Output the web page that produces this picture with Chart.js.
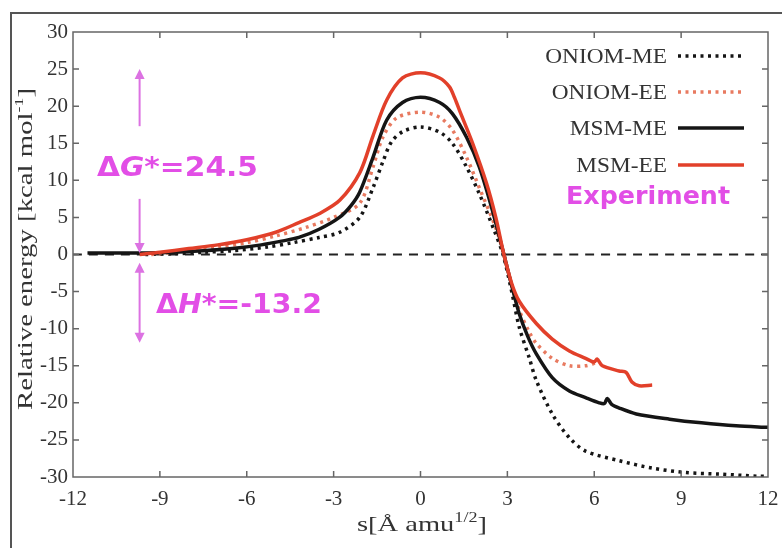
<!DOCTYPE html>
<html>
<head>
<meta charset="utf-8">
<script src="https://cdn.jsdelivr.net/npm/chart.js@4/dist/chart.umd.min.js"></script>
<style>
  html, body { margin: 0; padding: 0; background: #fff; }
  #wrap { width: 782px; height: 548px; position: relative; }
</style>
</head>
<body>
<div id="wrap"><canvas id="c"></canvas></div>
<script>
// reaction path s [Å amu^1/2] vs relative energy [kcal/mol]

const S_MSM_ME = [-11.5, -10.5, -9.5, -8.5, -7.5, -6.5, -5.5, -4.8, -4.2, -3.5, -2.8, -2.4, -2.1, -1.64, -1.17, -0.62, 0, 0.66, 1.1, 1.59, 2.03, 2.45, 2.88, 3.15, 3.41, 3.7, 4.0, 4.55, 5.14, 5.7, 6.17, 6.35, 6.45, 6.6, 6.86, 7.45, 8.6, 9.7, 10.9, 12];
const E_MSM_ME = [0.2, 0.2, 0.2, 0.3, 0.5, 0.8, 1.3, 1.8, 2.3, 3.4, 5.0, 6.6, 8.4, 13.1, 18.1, 20.5, 21.2, 20.5, 19.0, 15.8, 11.8, 6.4, 0, -4.2, -8.0, -11.0, -13.4, -16.6, -18.4, -19.3, -20.0, -20.1, -19.4, -20.2, -20.7, -21.5, -22.2, -22.7, -23.1, -23.3];

const S_MSM_EE = [-9.7, -9, -8, -7, -6, -5, -4.2, -3.5, -2.79, -2.1, -1.64, -1.17, -0.62, 0, 0.66, 1.0, 1.17, 1.34, 1.8, 2.28, 2.6, 2.88, 3.15, 3.41, 4.0, 4.55, 5.14, 5.7, 6.0, 6.1, 6.28, 6.86, 7.1, 7.3, 7.55, 8.0];
const E_MSM_EE = [0, 0.3, 0.8, 1.3, 2.0, 3.0, 4.3, 5.5, 7.3, 11.0, 16.0, 20.8, 23.8, 24.5, 23.8, 22.6, 21.2, 19.5, 15.0, 9.6, 5.0, 0, -3.9, -6.3, -9.3, -11.4, -13.0, -14.0, -14.5, -14.1, -15.0, -15.7, -15.9, -17.2, -17.7, -17.6];

const S_ONIOM_ME = [-9.5, -8.5, -7.5, -6.5, -5.3, -4.4, -3.5, -2.79, -2.1, -1.64, -1.3, -1.0, -0.6, 0, 0.66, 1.1, 1.59, 2.03, 2.55, 2.85, 3.15, 3.41, 3.76, 4.0, 4.55, 5.14, 5.7, 6.86, 8.0, 9.17, 10.3, 11.7, 12];
const E_ONIOM_ME = [0, 0.1, 0.3, 0.5, 1.0, 1.6, 2.3, 3.0, 5.0, 9.0, 12.5, 15.2, 16.6, 17.2, 16.5, 15.0, 11.8, 8.2, 3.2, 0, -5.0, -9.8, -14.0, -17.0, -21.5, -24.7, -26.5, -27.8, -28.8, -29.4, -29.6, -29.9, -29.9];

const S_ONIOM_EE = [-9.3, -8, -7, -6, -5, -4, -3, -2.1, -1.64, -1.3, -0.83, 0, 0.66, 1.1, 1.59, 2.03, 2.6, 2.88, 3.15, 3.41, 3.76, 4.0, 4.55, 5.14, 5.7, 6.07];
const E_ONIOM_EE = [0, 0.5, 1.0, 1.6, 2.5, 3.6, 5.0, 6.9, 11.8, 15.8, 18.4, 19.2, 18.5, 16.8, 13.1, 9.0, 3.6, 0, -4.2, -7.5, -10.5, -12.0, -14.0, -15.0, -15.0, -14.6];

const LEGEND_LABELS = ['ONIOM-ME', 'ONIOM-EE', 'MSM-ME', 'MSM-EE'];

// annotation arrows, in data units (s, energy)
const ARROW_S = -9.7;
const DG_ARROW = { top: 25, gapTop: 17.3, gapBottom: 7.5, bottom: 0.2 };
const DH_ARROW = { top: -1.1, bottom: -11.9 };

const BLACK = '#151515';
const RED = '#e2402a';
const RED_DOT = '#e87a60';
const MAGENTA = '#e24ee6';
const ARROW_COL = '#dc72e2';
const TEXT = '#333';
const SERIF = '"Liberation Serif", "Times New Roman", serif';
const SANS = '"DejaVu Sans", "Open Sans", sans-serif';

const DOT = [3, 4.5];

function pts(xs, ys) {
  return xs.map((x, i) => ({ x, y: ys[i] }));
}

// draw text runs scaled horizontally to fill a given width
function fitRuns(ctx, runs, x, y, width, align) {
  let natural = 0;
  for (const r of runs) { ctx.font = r.font; natural += ctx.measureText(r.t).width; }
  const k = width / natural;
  ctx.save();
  const startX = align === 'right' ? x - width : align === 'center' ? x - width / 2 : x;
  ctx.translate(startX, y);
  ctx.scale(k, 1);
  ctx.textAlign = 'left';
  ctx.textBaseline = 'alphabetic';
  let cx = 0;
  for (const r of runs) {
    ctx.font = r.font;
    ctx.fillStyle = r.color;
    ctx.fillText(r.t, cx, r.dy || 0);
    cx += ctx.measureText(r.t).width;
  }
  ctx.restore();
}

function arrowHead(ctx, x, y, dir) {
  // dir -1 points up, +1 points down
  ctx.beginPath();
  ctx.moveTo(x, y);
  ctx.lineTo(x - 5, y - dir * 10);
  ctx.lineTo(x + 5, y - dir * 10);
  ctx.closePath();
  ctx.fill();
}

function vArrow(ctx, x, y1, y2, head1, head2) {
  ctx.beginPath();
  ctx.moveTo(x, y1 + (head1 ? 6 : 0));
  ctx.lineTo(x, y2 - (head2 ? 6 : 0));
  ctx.stroke();
  if (head1) arrowHead(ctx, x, y1, -1);
  if (head2) arrowHead(ctx, x, y2, 1);
}

const decor = {
  id: 'decor',
  beforeDraw(chart) {
    const ctx = chart.ctx;
    ctx.save();
    ctx.fillStyle = '#fff';
    ctx.fillRect(0, 0, chart.width, chart.height);
    ctx.restore();
  },
  afterDraw(chart) {
    const ctx = chart.ctx;
    const { left, right, top, bottom } = chart.chartArea;
    const xs = chart.scales.x, ys = chart.scales.y;
    ctx.save();

    // outer frame of the figure
    ctx.strokeStyle = '#555';
    ctx.lineWidth = 2;
    ctx.beginPath();
    ctx.moveTo(11, 548);
    ctx.lineTo(11, 13);
    ctx.lineTo(782, 13);
    ctx.stroke();

    // plot frame and inward ticks
    ctx.strokeStyle = '#666';
    ctx.lineWidth = 1.5;
    ctx.strokeRect(left, top, right - left, bottom - top);
    ctx.beginPath();
    xs.ticks.forEach(t => {
      const p = xs.getPixelForValue(t.value);
      if (p <= left + 1 || p >= right - 1) return;
      ctx.moveTo(p, bottom); ctx.lineTo(p, bottom - 6);
      ctx.moveTo(p, top); ctx.lineTo(p, top + 6);
    });
    ys.ticks.forEach(t => {
      const p = ys.getPixelForValue(t.value);
      if (p <= top + 1 || p >= bottom - 1) return;
      ctx.moveTo(left, p); ctx.lineTo(left + 6, p);
      ctx.moveTo(right, p); ctx.lineTo(right - 6, p);
    });
    ctx.stroke();

    // axis titles
    ctx.save();
    ctx.translate(25, 249);
    ctx.rotate(-Math.PI / 2);
    fitRuns(ctx, [
      { t: 'Relative energy [kcal mol', font: '21px ' + SERIF, color: TEXT },
      { t: '-1', font: '13px ' + SERIF, color: TEXT, dy: -9 },
      { t: ']', font: '21px ' + SERIF, color: TEXT }
    ], 0, 7, 322, 'center');
    ctx.restore();

    fitRuns(ctx, [
      { t: 's[Å amu', font: '22px ' + SERIF, color: TEXT },
      { t: '1/2', font: '14px ' + SERIF, color: TEXT, dy: -9 },
      { t: ']', font: '22px ' + SERIF, color: TEXT }
    ], 422, 531, 130, 'center');

    // legend
    const legendY = [56, 92, 128, 165];
    const styles = [
      { c: BLACK, dash: DOT, w: 3.5 },
      { c: RED_DOT, dash: DOT, w: 3.5 },
      { c: BLACK, dash: [], w: 3.5 },
      { c: RED, dash: [], w: 3.5 }
    ];
    LEGEND_LABELS.forEach((lab, i) => {
      ctx.font = '22px ' + SERIF;
      const w = ctx.measureText(lab).width * 1.06;
      fitRuns(ctx, [{ t: lab, font: '22px ' + SERIF, color: TEXT }], 667, legendY[i] + 7, w, 'right');
      ctx.strokeStyle = styles[i].c;
      ctx.lineWidth = styles[i].w;
      ctx.setLineDash(styles[i].dash);
      ctx.beginPath();
      ctx.moveTo(678, legendY[i]);
      ctx.lineTo(744, legendY[i]);
      ctx.stroke();
      ctx.setLineDash([]);
    });
    fitRuns(ctx, [{ t: 'Experiment', font: 'bold 25px ' + SANS, color: MAGENTA }], 566, 204, 164, 'left');

    // ΔG* / ΔH* annotations
    fitRuns(ctx, [
      { t: 'Δ', font: 'bold 26px ' + SANS, color: MAGENTA },
      { t: 'G', font: 'bold italic 26px ' + SANS, color: MAGENTA },
      { t: '*=24.5', font: 'bold 26px ' + SANS, color: MAGENTA }
    ], 97, 176, 161, 'left');
    fitRuns(ctx, [
      { t: 'Δ', font: 'bold 26px ' + SANS, color: MAGENTA },
      { t: 'H', font: 'bold italic 26px ' + SANS, color: MAGENTA },
      { t: '*=-13.2', font: 'bold 26px ' + SANS, color: MAGENTA }
    ], 156, 313, 166, 'left');

    ctx.strokeStyle = ARROW_COL;
    ctx.fillStyle = ARROW_COL;
    ctx.lineWidth = 2;
    const ax = xs.getPixelForValue(ARROW_S);
    vArrow(ctx, ax, ys.getPixelForValue(DG_ARROW.top), ys.getPixelForValue(DG_ARROW.gapTop), true, false);
    vArrow(ctx, ax, ys.getPixelForValue(DG_ARROW.gapBottom), ys.getPixelForValue(DG_ARROW.bottom), false, true);
    vArrow(ctx, ax, ys.getPixelForValue(DH_ARROW.top), ys.getPixelForValue(DH_ARROW.bottom), true, true);

    ctx.restore();
  }
};

const lineBase = { showLine: true, pointRadius: 0, pointHoverRadius: 0, fill: false, tension: 0.3, borderCapStyle: 'butt', borderJoinStyle: 'round' };

new Chart(document.getElementById('c'), {
  type: 'scatter',
  data: {
    datasets: [
      { ...lineBase, label: 'zero', data: [{ x: -12, y: 0 }, { x: 12, y: 0 }], borderColor: '#222', borderWidth: 2, borderDash: [9, 7], order: 5 },
      { ...lineBase, label: LEGEND_LABELS[0], data: pts(S_ONIOM_ME, E_ONIOM_ME), borderColor: BLACK, borderWidth: 3.5, borderDash: DOT, order: 4 },
      { ...lineBase, label: LEGEND_LABELS[1], data: pts(S_ONIOM_EE, E_ONIOM_EE), borderColor: RED_DOT, borderWidth: 3.5, borderDash: DOT, order: 3 },
      { ...lineBase, label: LEGEND_LABELS[2], data: pts(S_MSM_ME, E_MSM_ME), borderColor: BLACK, borderWidth: 3.5, order: 2 },
      { ...lineBase, label: LEGEND_LABELS[3], data: pts(S_MSM_EE, E_MSM_EE), borderColor: RED, borderWidth: 3.5, order: 1 }
    ]
  },
  options: {
    responsive: true,
    maintainAspectRatio: false,
    animation: false,
    layout: { padding: { top: 32, right: 14, left: 0, bottom: 0 } },
    plugins: { legend: { display: false }, tooltip: { enabled: false } },
    scales: {
      x: {
        type: 'linear',
        min: -12, max: 12,
        grid: { display: false, drawTicks: false },
        border: { display: false },
        ticks: { stepSize: 3, color: TEXT, padding: 10, font: { family: SERIF, size: 21 } },
        afterFit: s => { s.height = 71; s.paddingLeft = 0; s.paddingRight = 0; }
      },
      y: {
        min: -30, max: 30,
        grid: { display: false, drawTicks: false },
        border: { display: false },
        ticks: { stepSize: 5, color: TEXT, padding: 5, font: { family: SERIF, size: 21 } },
        afterFit: s => { s.width = 73; s.paddingTop = 0; s.paddingBottom = 0; }
      }
    }
  },
  plugins: [decor]
});
</script>
</body>
</html>
